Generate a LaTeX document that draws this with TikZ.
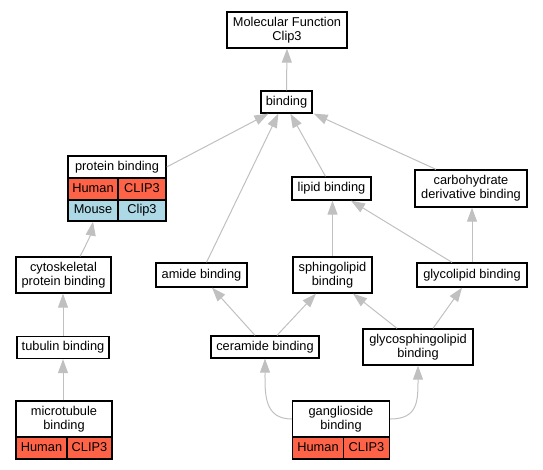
\documentclass[tikz,border=0pt]{standalone}
\usepackage{fontspec}
\setmainfont{Liberation Sans}
\usetikzlibrary{arrows.meta,calc}
\definecolor{edgegray}{HTML}{C0C0C0}
\definecolor{human}{HTML}{FF6347}
\definecolor{mouse}{HTML}{ADD8E6}
\tikzset{
  box/.style={draw=black, line width=1.3pt, fill=white, inner sep=0pt, align=center,
    font=\fontsize{12.8}{14}\selectfont},
  cell/.style={box, text height=9.2pt, text depth=2.8pt},
  hcell/.style={cell, fill=human},
  mcell/.style={cell, fill=mouse},
  conn/.style={draw=edgegray, line width=1pt,
    -{Triangle[length=14pt,width=10pt]}},
}
\begin{document}
\begin{tikzpicture}[x=1pt,y=-1pt]
\useasboundingbox (0,0) rectangle (543,469);
% nodes
\node[box, minimum width=120pt, minimum height=36pt] (mf) at (287,30) {Molecular Function\\Clip3};
\node[box, minimum width=51pt, minimum height=22pt] (bind) at (286.5,102) {binding};
\node[box, minimum width=98pt, minimum height=22pt] (prot) at (117,167) {protein binding};
\node[hcell, minimum width=50pt, minimum height=22pt] (protH) at (93,189) {Human};
\node[hcell, minimum width=48pt, minimum height=22pt] (protHg) at (142,189) {CLIP3};
\node[mcell, minimum width=50pt, minimum height=21pt] (protM) at (93,210.5) {Mouse};
\node[mcell, minimum width=48pt, minimum height=21pt] (protMg) at (142,210.5) {Clip3};
\node[box, minimum width=79pt, minimum height=23pt] (lipid) at (331.5,188.5) {lipid binding};
\node[box, minimum width=112pt, minimum height=37pt] (carb) at (471,188.5) {carbohydrate\\derivative binding};
\node[box, minimum width=91pt, minimum height=24pt] (amide) at (201.5,275) {amide binding};
\node[box, minimum width=79pt, minimum height=36pt] (sphingo) at (332.5,275) {sphingolipid\\binding};
\node[box, minimum width=110pt, minimum height=24pt] (glycolipid) at (472,275) {glycolipid binding};
\node[box, minimum width=95pt, minimum height=36pt] (cyto) at (63.5,275) {cytoskeletal\\protein binding};
\node[box, minimum width=92pt, minimum height=22pt] (tub) at (63,347.5) {tubulin binding};
\node[box, minimum width=108pt, minimum height=22pt] (cer) at (265,347) {ceramide binding};
\node[box, minimum width=110pt, minimum height=36pt] (gsl) at (418,347) {glycosphingolipid\\binding};
\node[box, minimum width=96pt, minimum height=36pt] (mt) at (64,419) {microtubule\\binding};
\node[hcell, minimum width=51pt, minimum height=22pt] (mtH) at (41.5,448) {Human};
\node[hcell, minimum width=45pt, minimum height=22pt] (mtHg) at (89.5,448) {CLIP3};
\node[box, minimum width=97pt, minimum height=36pt] (gang) at (341,419) {ganglioside\\binding};
\node[hcell, minimum width=51pt, minimum height=22pt] (gangH) at (318,448) {Human};
\node[hcell, minimum width=46pt, minimum height=22pt] (gangHg) at (366.5,448) {CLIP3};
% edges
\draw[conn] (bind.north) -- (mf.south);
\draw[conn] (prot.east) -- ($(bind.south west)+(8,0)$);
\draw[conn] ($(amide.north)+(5,0)$) -- ($(bind.south west)+(18,0)$);
\draw[conn] ($(lipid.north)+(-6,0)$) -- ($(bind.south west)+(30,0)$);
\draw[conn] ($(carb.north)+(-35,0)$) -- ($(bind.south east)+(1,0)$);
\draw[conn] ($(cyto.north)+(16.5,0)$) .. controls +(5,-9) and +(-2,12) .. (protM.south);
\draw[conn] (tub.north) -- (cyto.south -| tub.north);
\draw[conn] (mt.north -| tub.south) -- (tub.south);
\draw[conn] (sphingo.north) -- (sphingo.north |- lipid.south);
\draw[conn] ($(glycolipid.north)+(-20,0)$) -- ($(lipid.south)+(19.5,0)$);
\draw[conn] (glycolipid.north) -- (carb.south -| glycolipid.north);
\draw[conn] ($(cer.north)+(-10,0)$) -- ($(amide.south)+(10.5,0)$);
\draw[conn] ($(cer.north)+(12,0)$) -- ($(sphingo.south)+(-16.5,0)$);
\draw[conn] ($(gsl.north)+(-21,0)$) -- ($(sphingo.south)+(20.5,0)$);
\draw[conn] ($(gsl.north)+(15,0)$) -- ($(glycolipid.south)+(-10,0)$);
\draw[conn] (gang.west) .. controls +(-28,0) and +(0,35) .. (cer.south);
\draw[conn] (gang.east) .. controls +(28,0) and +(0,35) .. (gsl.south);
\end{tikzpicture}
\end{document}
